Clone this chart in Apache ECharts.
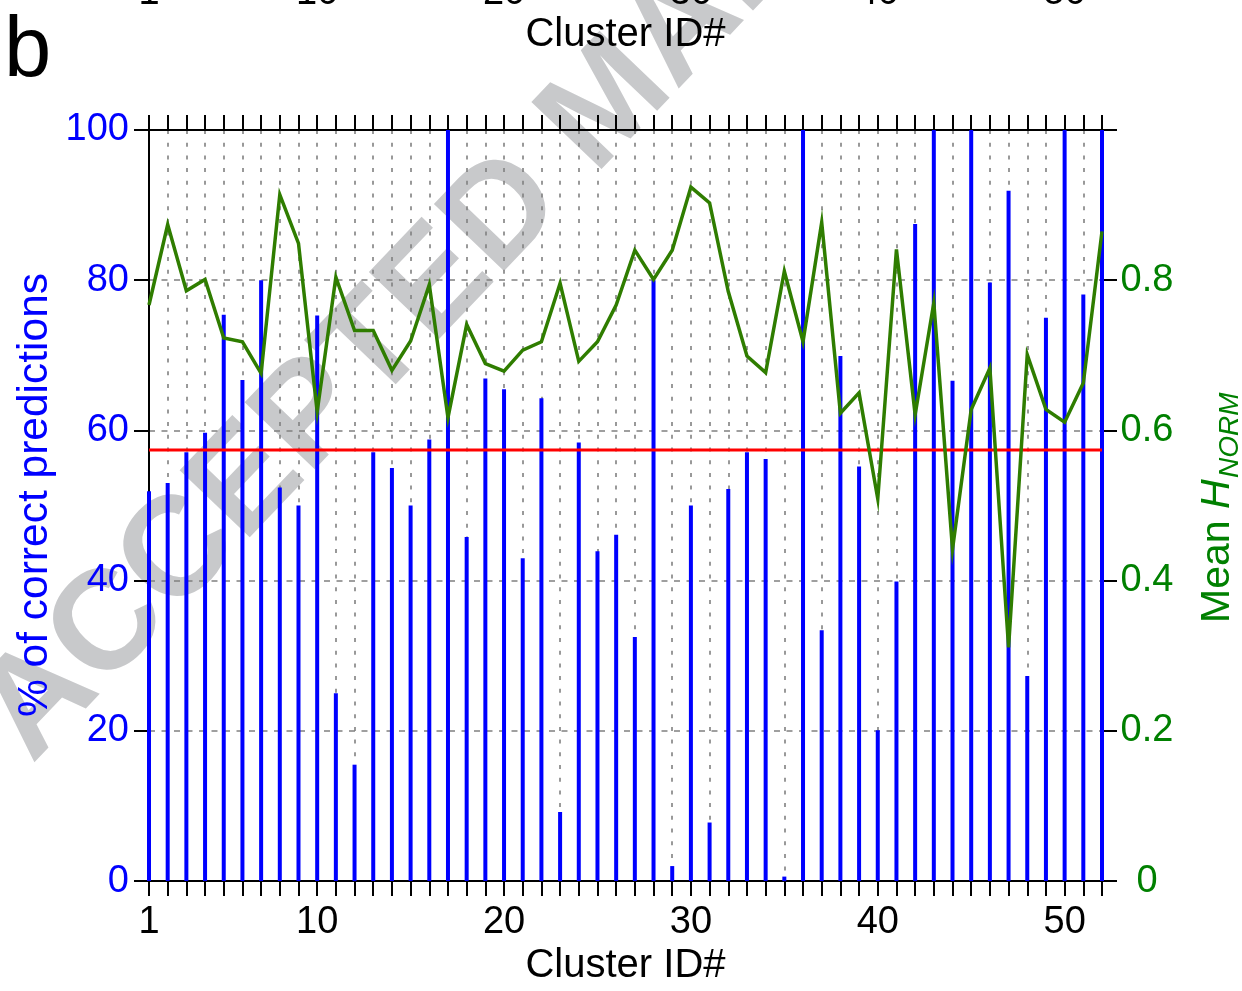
<!DOCTYPE html>
<html>
<head>
<meta charset="utf-8">
<title>Cluster prediction accuracy and mean H_NORM</title>
<script src="https://cdn.jsdelivr.net/npm/echarts@6/dist/echarts.min.js"></script>
<style>
  html, body { margin: 0; padding: 0; background: #ffffff; }
  #chart { width: 1242px; height: 991px; }
</style>
</head>
<body>
<div id="chart"></div>
<script>
// Cluster identifiers 1..52
const clusterIds = [
  1, 2, 3, 4, 5, 6, 7, 8, 9, 10,
  11, 12, 13, 14, 15, 16, 17, 18, 19, 20,
  21, 22, 23, 24, 25, 26, 27, 28, 29, 30,
  31, 32, 33, 34, 35, 36, 37, 38, 39, 40,
  41, 42, 43, 44, 45, 46, 47, 48, 49, 50,
  51, 52
];

// % of correct predictions per cluster (left axis)
const correctPct = [
  51.9, 53.0, 57.1, 59.7, 75.4, 66.7, 80.0, 52.4, 50.0, 75.3,
  25.0, 15.5, 57.1, 55.0, 50.0, 58.8, 100, 45.8, 66.9, 65.5,
  43.0, 64.3, 9.2, 58.4, 43.9, 46.1, 32.5, 80.0, 2.0, 50.0,
  7.8, 52.2, 57.1, 56.2, 0.6, 100, 33.4, 69.9, 55.2, 20.1,
  39.9, 87.5, 100, 66.6, 100, 79.7, 91.9, 27.3, 75.0, 100,
  78.1, 100
];

// Mean normalised entropy per cluster (right axis)
const meanHnorm = [
  0.767, 0.874, 0.786, 0.801, 0.723, 0.718, 0.676, 0.914, 0.849, 0.625,
  0.804, 0.733, 0.733, 0.680, 0.719, 0.794, 0.617, 0.741, 0.689, 0.679,
  0.707, 0.718, 0.796, 0.692, 0.718, 0.767, 0.840, 0.801, 0.840, 0.924,
  0.903, 0.785, 0.699, 0.677, 0.812, 0.718, 0.877, 0.623, 0.650, 0.509,
  0.841, 0.621, 0.770, 0.442, 0.628, 0.683, 0.311, 0.701, 0.628, 0.611,
  0.663, 0.865
];

// Overall average of correct predictions (red reference line)
const averagePct = 57.4;

// Cluster numbers that carry a tick label
const labelledIds = [1, 10, 20, 30, 40, 50];

const FONT = "'Liberation Sans', Arial, Helvetica, sans-serif";
const BLUE = '#0000ff';
const GREEN_TEXT = '#008000';
const GREEN_LINE = '#2f7d00';
const GRID_GRAY = '#808080';

const barData = clusterIds.map((id, i) => [id, correctPct[i]]);
const lineData = clusterIds.map((id, i) => [id, meanHnorm[i]]);
const avgData = [[clusterIds[0], averagePct], [clusterIds[clusterIds.length - 1], averagePct]];

const xLabelFormatter = v => (labelledIds.indexOf(Math.round(v)) >= 0 ? String(Math.round(v)) : '');

const chart = echarts.init(document.getElementById('chart'), null, { renderer: 'canvas' });

const staticGraphics = [
  // diagonal manuscript stamp behind the plot
  {
    id: 'stamp', type: 'text', z: -10,
    x: 4, y: 738,
    rotation: 46.3 * Math.PI / 180,
    style: {
      text: 'ACCEPTED MANUSCRIPT',
      fontFamily: FONT, fontWeight: 'bold', fontSize: 141,
      fill: '#c8c9cb',
      textAlign: 'left', textVerticalAlign: 'middle'
    },
    silent: true
  },
  // panel letter
  {
    id: 'panel', type: 'text', x: 4, y: 10,
    style: { text: 'b', fontFamily: FONT, fontSize: 85, fill: '#000', textAlign: 'left', textVerticalAlign: 'top' }
  },
  // left axis title
  {
    id: 'ytitleL', type: 'text', x: 35, y: 495, rotation: Math.PI / 2,
    style: {
      text: '% of correct predictions', fontFamily: FONT, fontSize: 42.5, fill: BLUE,
      textAlign: 'center', textVerticalAlign: 'middle'
    }
  },
  // right axis title: Mean H with NORM subscript
  {
    id: 'ytitleR', type: 'group', x: 1218, y: 623, rotation: Math.PI / 2,
    children: [
      { type: 'text', x: 0, y: 0, style: { text: 'Mean ', fontFamily: FONT, fontSize: 41, fill: GREEN_TEXT, textAlign: 'left', textVerticalAlign: 'middle' } },
      { type: 'text', x: 114, y: 0, style: { text: 'H', fontFamily: FONT, fontStyle: 'italic', fontSize: 41, fill: GREEN_TEXT, textAlign: 'left', textVerticalAlign: 'middle' } },
      { type: 'text', x: 145, y: 12, style: { text: 'NORM', fontFamily: FONT, fontStyle: 'italic', fontSize: 28, fill: GREEN_TEXT, textAlign: 'left', textVerticalAlign: 'middle' } }
    ]
  }
];

const option = {
  animation: false,
  backgroundColor: '#ffffff',
  textStyle: { fontFamily: FONT },
  grid: { left: 149, right: 140, top: 130, bottom: 109, containLabel: false },
  xAxis: [
    {
      type: 'value', position: 'bottom',
      min: 1, max: 52, interval: 1,
      name: 'Cluster ID#', nameLocation: 'middle', nameGap: 57,
      nameTextStyle: { fontSize: 40, color: '#000', fontFamily: FONT },
      axisLine: { show: true, onZero: false, lineStyle: { color: '#000', width: 2 } },
      axisTick: { show: true, inside: false, length: 15, lineStyle: { color: '#000', width: 2 } },
      axisLabel: { show: true, margin: 22, fontSize: 38, color: '#000', fontFamily: FONT, formatter: xLabelFormatter, showMinLabel: true, showMaxLabel: true },
      splitLine: { show: true, lineStyle: { color: GRID_GRAY, width: 1.6, type: [4, 8.7] } }
    },
    {
      type: 'value', position: 'top',
      min: 1, max: 52, interval: 1,
      axisLine: { show: true, onZero: false, lineStyle: { color: '#000', width: 2 } },
      axisTick: { show: true, inside: false, length: 15, lineStyle: { color: '#000', width: 2 } },
      axisLabel: { show: false },
      splitLine: { show: false }
    }
  ],
  yAxis: [
    {
      type: 'value', position: 'left',
      min: 0, max: 100, interval: 20,
      axisLine: { show: true, lineStyle: { color: '#000', width: 2 } },
      axisTick: { show: true, inside: false, length: 15, lineStyle: { color: '#000', width: 2 } },
      axisLabel: { margin: 20, fontSize: 38, color: BLUE, fontFamily: FONT },
      splitLine: { show: true, lineStyle: { color: GRID_GRAY, width: 1.6, type: [6, 6.5] } }
    },
    {
      type: 'value', position: 'right',
      min: 0, max: 1, interval: 0.2,
      axisLine: { show: true, lineStyle: { color: '#000', width: 2 } },
      axisTick: { show: true, inside: false, length: 15, lineStyle: { color: '#000', width: 2 } },
      axisLabel: {
        margin: 45, align: 'center', fontSize: 38, color: GREEN_TEXT, fontFamily: FONT,
        formatter: v => (v >= 0.999 ? '' : (v === 0 ? '0' : v.toFixed(1)))
      },
      splitLine: { show: false }
    }
  ],
  graphic: staticGraphics,
  series: [
    {
      name: '% correct',
      type: 'bar', xAxisIndex: 0, yAxisIndex: 0,
      data: barData, barWidth: 4,
      itemStyle: { color: BLUE },
      z: 3
    },
    {
      name: 'average',
      type: 'line', xAxisIndex: 0, yAxisIndex: 0,
      data: avgData, symbol: 'none',
      lineStyle: { color: '#ff0000', width: 3 },
      z: 4
    },
    {
      name: 'Mean H_NORM',
      type: 'line', xAxisIndex: 0, yAxisIndex: 1,
      data: lineData, symbol: 'none',
      lineStyle: { color: GREEN_LINE, width: 3.5, join: 'miter' },
      z: 5
    }
  ]
};

chart.setOption(option);

// The panel above shares the same cluster scale; only the lower edge of its
// tick labels and its axis title fall inside the canvas.
const upperGraphics = labelledIds.map(id => ({
  id: 'upper-' + id, type: 'text',
  x: chart.convertToPixel({ xAxisIndex: 0 }, id), y: -25,
  style: { text: String(id), fontFamily: FONT, fontSize: 38, fill: '#000', textAlign: 'center', textVerticalAlign: 'top' }
}));
const xLeft = chart.convertToPixel({ xAxisIndex: 0 }, clusterIds[0]);
const xRight = chart.convertToPixel({ xAxisIndex: 0 }, clusterIds[clusterIds.length - 1]);
upperGraphics.push({
  id: 'upper-title', type: 'text',
  x: (xLeft + xRight) / 2, y: 15,
  style: { text: 'Cluster ID#', fontFamily: FONT, fontSize: 40, fill: '#000', textAlign: 'center', textVerticalAlign: 'top' }
});

chart.setOption({ graphic: staticGraphics.concat(upperGraphics) });
</script>
</body>
</html>
